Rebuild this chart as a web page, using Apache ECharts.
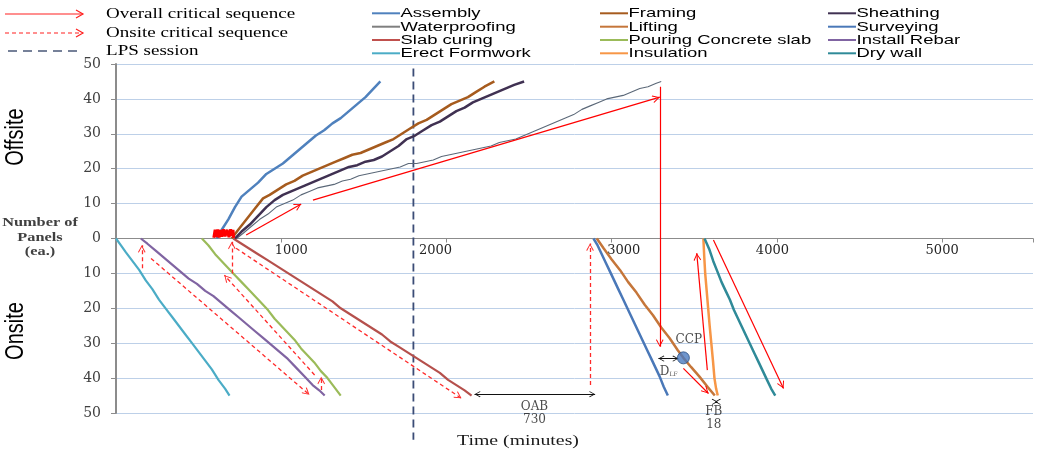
<!DOCTYPE html>
<html>
<head>
<meta charset="utf-8">
<script src="https://cdn.jsdelivr.net/npm/echarts@6/dist/echarts.min.js"></script>
<style>
  html, body { margin: 0; padding: 0; background: #ffffff; }
  #chart { width: 1037px; height: 452px; }
</style>
</head>
<body>
<div id="chart"></div>
<script>
// ---- Axis ticks ----
const timeTicks = [1000, 2000, 3000, 4000, 5000];      // minutes
const panelTicks = [-50, -40, -30, -20, -10, 0, 10, 20, 30, 40, 50];

// ---- Offsite production (cumulative panels, positive side) ----
const assembly = [[610,0],[640,2.5],[680,5.5],[720,9],[760,12],[810,14],[860,16],[910,18.5],[960,20],[1010,21.5],[1060,23.5],[1110,25.5],[1160,27.5],[1210,29.5],[1260,31],[1310,33],[1360,34.5],[1410,36.5],[1460,38.5],[1510,40.5],[1560,43],[1600,45]];
const framing = [[700,0],[740,2.5],[790,5.5],[840,8.5],[890,11.5],[930,12.5],[980,14],[1030,15.5],[1080,16.5],[1130,18],[1180,19],[1230,20],[1280,21],[1330,22],[1380,23],[1430,24],[1480,24.5],[1530,25.5],[1580,26.5],[1630,27.5],[1680,28.5],[1730,30],[1780,31.5],[1830,33],[1880,34],[1930,35.5],[1980,37],[2030,38.5],[2080,39.5],[2130,40.5],[2180,42],[2230,43.5],[2290,45]];
const sheathing = [[720,0],[760,2],[810,4],[860,6.5],[910,9],[960,11],[1010,12.5],[1060,13.5],[1110,14.5],[1160,15.5],[1210,16.5],[1260,17.5],[1310,18.5],[1360,19.5],[1410,20.5],[1460,21],[1510,22],[1560,22.5],[1610,23.5],[1660,25],[1710,26.5],[1760,28.5],[1810,29.5],[1860,31],[1910,32.5],[1960,33.5],[2010,35],[2060,36.5],[2110,37.5],[2160,39],[2210,40],[2260,41],[2310,42],[2360,43],[2410,44],[2470,45]];
const waterproofing = [[730,0],[770,1.5],[820,3.5],[870,5.5],[920,7],[970,9],[1020,10],[1070,11],[1120,12.5],[1170,13.5],[1220,14.5],[1270,15],[1320,15.5],[1370,16.5],[1420,17],[1470,18],[1520,18.5],[1570,19],[1620,19.5],[1670,20],[1720,20.5],[1770,21.5],[1820,21.5],[1870,22],[1920,22.5],[1970,23.5],[2020,24],[2070,24.5],[2120,25],[2170,25.5],[2220,26],[2270,26.5],[2320,27.5],[2370,28],[2420,28.5],[2470,29.5],[2520,30.5],[2570,31.5],[2620,32.5],[2670,33.5],[2720,34.5],[2770,35.5],[2820,37],[2870,38],[2920,39],[2970,40],[3020,40.5],[3070,41],[3120,42],[3170,43],[3220,43.5],[3270,44.5],[3300,45]];

// ---- Onsite installation (cumulative panels, drawn downward) ----
const erectFormwork = [[0,0],[30,-2],[60,-4],[100,-6.5],[140,-9],[180,-12],[220,-14.5],[260,-17.5],[300,-20],[340,-22.5],[380,-25],[420,-27.5],[460,-30],[500,-32.5],[540,-35],[580,-37.5],[620,-40.5],[660,-43],[687,-45]];
const installRebar = [[150,0],[190,-1.5],[240,-3.5],[290,-5.5],[340,-7.5],[390,-9.5],[440,-11.5],[490,-13],[540,-15],[590,-16.5],[640,-18.5],[690,-20.5],[740,-22.5],[790,-24.5],[840,-26.5],[890,-28.5],[940,-30.5],[990,-32.5],[1040,-34.5],[1090,-37],[1140,-39.5],[1190,-42],[1230,-43.5],[1263,-45]];
const pouringSlab = [[520,0],[560,-2],[600,-4.5],[640,-6.5],[680,-8.5],[720,-10.5],[760,-12.5],[800,-14.5],[840,-16.5],[880,-18.5],[920,-20.5],[960,-23],[1000,-25],[1040,-27],[1080,-29],[1120,-31.5],[1160,-33.5],[1200,-35.5],[1240,-38],[1280,-40],[1320,-42.5],[1360,-45]];
const slabCuring = [[710,0],[760,-1.5],[810,-3],[860,-4.5],[910,-6],[960,-7.5],[1010,-9],[1060,-10.5],[1110,-12],[1160,-13.5],[1210,-15],[1260,-16.5],[1310,-18],[1360,-20],[1410,-21.5],[1460,-23],[1510,-24.5],[1560,-26],[1610,-27.5],[1660,-29.5],[1710,-31],[1760,-32.5],[1810,-34],[1860,-35.5],[1910,-37],[1960,-38.5],[2010,-40.5],[2060,-42],[2110,-43.5],[2152,-45]];
const surveying = [[2890,0],[2915,-2],[2940,-4.5],[2965,-7],[2990,-9.5],[3015,-12],[3040,-14.5],[3065,-17],[3090,-19.5],[3115,-22],[3140,-24.5],[3165,-27],[3190,-29.5],[3215,-32],[3240,-34.5],[3265,-37],[3290,-39.5],[3315,-42.5],[3340,-45]];
const lifting = [[2910,0],[2950,-2.7],[3000,-6],[3050,-9],[3100,-12.5],[3150,-15.5],[3200,-19],[3250,-22],[3300,-25.5],[3350,-28.5],[3400,-32],[3434,-34.2],[3480,-36.8],[3530,-39.5],[3580,-42.5],[3624,-45]];
const insulation = [[3555,0],[3560,-5],[3566,-10],[3575,-15],[3584,-20],[3593,-25],[3603,-30],[3613,-35],[3622,-40],[3632,-43],[3642,-45]];
const dryWall = [[3562,0],[3590,-3],[3615,-6.5],[3640,-9.5],[3665,-12.5],[3690,-15],[3715,-17.5],[3740,-20.5],[3765,-23],[3790,-25.5],[3815,-28],[3840,-30.5],[3865,-33],[3890,-35.5],[3915,-38],[3940,-40.5],[3965,-43],[3990,-45]];

// ---- Critical sequences, buffers and the LPS session ----
const startMarks = [[592,0.2],[600,2.5],[608,0.4],[616,2.6],[624,0.3],[632,2.4],[640,0.5],[650,2.6],[660,0.6],[672,2.5],[684,0.4],[694,2.6],[702,0.8],[708,2.5],[712,0.2]];
const overallArrows = [
  [[788,1],[1121,9.9]],
  [[1192,11],[3291,40.5]],
  [[3291,43.5],[3291,-31]],
  [[3434,-37.2],[3586,-44.4]],
  [[3579,-37.7],[3515,-4.2]],
  [[3616,-0.4],[4040,-43]]
];
const onsiteArrows = [
  [[156,-8.5],[156,-1.9]],
  [[212,-5.7],[1171,-44.8]],
  [[1242,-43.4],[1242,-39.6]],
  [[1202,-39.1],[656,-10.5]],
  [[701,-10],[701,-0.9]],
  [[727,-2.8],[2091,-45.8]],
  [[2869,-42],[2869,-1.4]]
];
const oab = [[2170,-44.6],[2900,-44.6]];       // 730 min
const dLf = [[3283,-34.4],[3404,-34.4]];
const fb = [[3624,-46.8],[3642,-46.8]];        // 18 min
const lpsSession = [[1800,48.7],[1800,-57.7]];
const ccpPoint = [[3434,-34.2]];
const annotations = [
  { text: 'OAB\n730', at: [2533,-50.2] },
  { text: 'FB\n18', at: [3618,-51.4] },
  { text: 'CCP', at: [3467,-29.1] },
  { text: 'D{s|LF}', at: [3345,-38.2] }
];

// ---- Series styling ----
const seriesDefs = [
  { name: 'Assembly',              data: assembly,      color: '#4f81bd', width: 2.5, col: 0, row: 0 },
  { name: 'Waterproofing',         data: waterproofing, color: '#5b6878', width: 1.1, col: 0, row: 1, legendColor: '#7f7f7f' },
  { name: 'Slab curing',           data: slabCuring,    color: '#b5504c', width: 2.2, col: 0, row: 2, legendColor: '#c0504d' },
  { name: 'Erect Formwork',        data: erectFormwork, color: '#4bacc6', width: 2.2, col: 0, row: 3 },
  { name: 'Framing',               data: framing,       color: '#a65b1e', width: 2.5, col: 1, row: 0 },
  { name: 'Lifting',               data: lifting,       color: '#c5763a', width: 2.5, col: 1, row: 1 },
  { name: 'Pouring Concrete slab', data: pouringSlab,   color: '#9bbb59', width: 2.2, col: 1, row: 2 },
  { name: 'Insulation',            data: insulation,    color: '#f79646', width: 2.5, col: 1, row: 3 },
  { name: 'Sheathing',             data: sheathing,     color: '#403152', width: 2.5, col: 2, row: 0 },
  { name: 'Surveying',             data: surveying,     color: '#4a78b8', width: 2.5, col: 2, row: 1 },
  { name: 'Install Rebar',         data: installRebar,  color: '#8064a2', width: 2.2, col: 2, row: 2 },
  { name: 'Dry wall',              data: dryWall,       color: '#2f8a98', width: 2.5, col: 2, row: 3 }
];

// open chevron arrow head whose tip sits at the symbol centre
const chevron = 'path://M10,0L15,9L14,10L10,2.4L6,10L5,9Z M0,-10L0.1,-10L0,-9.9Z M20,-10L19.9,-10L20,-9.9Z';

const SERIF = '"Liberation Serif", "DejaVu Serif", serif';
const SANS = '"Liberation Sans", Arial, sans-serif';
const STRETCH = 1.36;

// ---- Legend drawn as graphics ----
const legendCols = [372, 600, 828];
const legendRowY = [13.3, 26.7, 40, 53.3];
const graphics = [];
seriesDefs.forEach(d => {
  const x = legendCols[d.col], y = legendRowY[d.row];
  graphics.push({
    type: 'line', silent: true,
    shape: { x1: x, y1: y, x2: x + 28, y2: y },
    style: { stroke: d.legendColor || d.color, lineWidth: 2 }
  });
  graphics.push({
    type: 'text', silent: true, x: x + 28.5, y: y + 0.5, scaleX: 1.42,
    style: { text: d.name, font: '13px ' + SANS, fill: '#000', verticalAlign: 'middle', align: 'left' }
  });
});

// critical-sequence key
function keyArrow(y, dash) {
  graphics.push({ type: 'line', silent: true, shape: { x1: 5, y1: y, x2: 83, y2: y },
    style: { stroke: '#ff2020', lineWidth: 1.2, lineDash: dash } });
  graphics.push({ type: 'polyline', silent: true, shape: { points: [[76, y - 4], [83, y], [76, y + 4]] },
    style: { stroke: '#ff2020', lineWidth: 1.2, fill: null } });
}
keyArrow(14, null);
keyArrow(33, [4, 3]);
graphics.push({ type: 'line', silent: true, shape: { x1: 8, y1: 51, x2: 78, y2: 51 },
  style: { stroke: '#4a5878', lineWidth: 1.5, lineDash: [9, 6] } });
[['Overall critical sequence', 14], ['Onsite critical sequence', 33], ['LPS session', 51]].forEach(([t, y]) => {
  graphics.push({ type: 'text', silent: true, x: 106, y: y, scaleX: STRETCH,
    style: { text: t, font: '14px ' + SERIF, fill: '#000', verticalAlign: 'middle' } });
});

// side titles
graphics.push({ type: 'text', silent: true, x: 16, y: 137, rotation: Math.PI / 2, scaleY: 1.3,
  style: { text: 'Offsite', font: '20px ' + SANS, fill: '#000', align: 'center', verticalAlign: 'middle' } });
graphics.push({ type: 'text', silent: true, x: 16, y: 331, rotation: Math.PI / 2, scaleY: 1.3,
  style: { text: 'Onsite', font: '20px ' + SANS, fill: '#000', align: 'center', verticalAlign: 'middle' } });
[['Number of', 223], ['Panels', 237.5], ['(ea.)', 251.5]].forEach(([t, y]) => {
  graphics.push({ type: 'text', silent: true, x: 40, y: y, scaleX: STRETCH, originX: 0,
    style: { text: t, font: 'bold 12px ' + SERIF, fill: '#404040', align: 'center', verticalAlign: 'middle' } });
});
graphics.push({ type: 'text', silent: true, x: 518, y: 441, scaleX: 1.32,
  style: { text: 'Time (minutes)', font: '15px ' + SERIF, fill: '#1a1a1a', align: 'center', verticalAlign: 'middle' } });

// ---- Chart ----
const series = seriesDefs.map(d => ({
  name: d.name, type: 'line', data: d.data, showSymbol: false, symbol: 'none',
  lineStyle: { color: d.color, width: d.width }, itemStyle: { color: d.color },
  silent: true, animation: false, z: 3
}));

series.push({
  name: 'critical start', type: 'line', data: startMarks, showSymbol: false, symbol: 'none',
  lineStyle: { color: '#ff0000', width: 3 }, silent: true, animation: false, z: 4
});
series.push({
  name: 'LPS session', type: 'line', data: lpsSession, showSymbol: false, symbol: 'none', clip: false,
  lineStyle: { color: '#3b4c76', width: 1.8, type: [8, 5] }, silent: true, animation: false, z: 2
});
series.push({
  name: 'overall critical', type: 'lines', coordinateSystem: 'cartesian2d',
  data: overallArrows.map(c => ({ coords: c })),
  symbol: ['none', chevron], symbolSize: 15,
  lineStyle: { color: '#ff0000', width: 1.2, opacity: 1, curveness: 0 },
  silent: true, animation: false, z: 6
});
series.push({
  name: 'onsite critical', type: 'lines', coordinateSystem: 'cartesian2d',
  data: onsiteArrows.map(c => ({ coords: c })),
  symbol: ['none', chevron], symbolSize: 15,
  lineStyle: { color: '#ff2a2a', width: 1.3, opacity: 1, type: [4, 3], curveness: 0 },
  silent: true, animation: false, z: 6
});
series.push({
  name: 'buffers', type: 'lines', coordinateSystem: 'cartesian2d',
  data: [oab, dLf, fb].map(c => ({ coords: c })),
  symbol: [chevron, chevron], symbolSize: 12,
  lineStyle: { color: '#111111', width: 1, opacity: 1, curveness: 0 },
  silent: true, animation: false, z: 6
});
series.push({
  name: 'CCP', type: 'scatter', data: ccpPoint, symbolSize: 12,
  itemStyle: { color: '#4a7bc0', borderColor: '#2c4f80', borderWidth: 1 },
  silent: true, animation: false, z: 7
});
series.push({
  name: 'notes', type: 'scatter', clip: false, symbolSize: 0,
  data: annotations.map(a => ({ value: a.at, name: a.text })),
  label: {
    show: true, position: 'inside', formatter: '{b}',
    fontFamily: '"DejaVu Serif", serif', fontSize: 12, lineHeight: 13, color: '#1a1a1a', align: 'center',
    rich: { s: { fontSize: 6, fontFamily: '"DejaVu Serif", serif', color: '#1a1a1a', padding: [5, 0, 0, 0] } }
  },
  itemStyle: { color: '#000' }, silent: true, animation: false, z: 8
});

// plot area geometry: the time axis sits on the zero line, halfway down
const GRID_TOP = 64, GRID_BOTTOM = 39, PLOT_H = 452 - GRID_TOP - GRID_BOTTOM;

// time labels are nudged sideways so they clear the lines that start at the zero line
const tickLabelStyle = { fontSize: 13, color: '#262626', fontFamily: '"DejaVu Serif", serif' };
const tickNudge = { 1000: [0, 0, 0, 20], 2000: [0, 22, 0, 0], 3000: [0, 0, 0, 24], 4000: [0, 9, 0, 0], 5000: [0, 0, 0, 0] };
const tickRich = {};
timeTicks.forEach(t => { tickRich['t' + t] = Object.assign({ padding: tickNudge[t] }, tickLabelStyle); });

const chart = echarts.init(document.getElementById('chart'), null, { renderer: 'canvas' });
chart.setOption({
  animation: false,
  backgroundColor: '#ffffff',
  textStyle: { fontFamily: SERIF },
  grid: { left: 116, right: 4, top: GRID_TOP, bottom: GRID_BOTTOM, containLabel: false },
  xAxis: {
    type: 'value', min: 0, max: 5550, interval: 1000,
    position: 'bottom', offset: -PLOT_H / 2,
    axisLine: { show: true, onZero: false, lineStyle: { color: '#8c8c8c', width: 1.2 } },
    axisTick: { show: true, length: 4, lineStyle: { color: '#8c8c8c' } },
    axisLabel: Object.assign({
      margin: 6, rich: tickRich,
      formatter: v => (timeTicks.includes(v) ? '{t' + v + '|' + v + '}' : '')
    }, tickLabelStyle),
    splitLine: { show: false }
  },
  yAxis: {
    type: 'value', min: panelTicks[0], max: panelTicks[panelTicks.length - 1], interval: 10,
    axisLine: { show: true, lineStyle: { color: '#8c8c8c', width: 2 } },
    axisTick: { show: true, length: 5, lineStyle: { color: '#8c8c8c' } },
    axisLabel: {
      margin: 15, fontSize: 14, color: '#404040', fontFamily: '"DejaVu Serif", serif',
      formatter: v => String(Math.abs(v))
    },
    splitLine: { show: true, lineStyle: { color: '#bdd0e8', width: 1 } }
  },
  graphic: graphics,
  series: series
});
</script>
</body>
</html>
